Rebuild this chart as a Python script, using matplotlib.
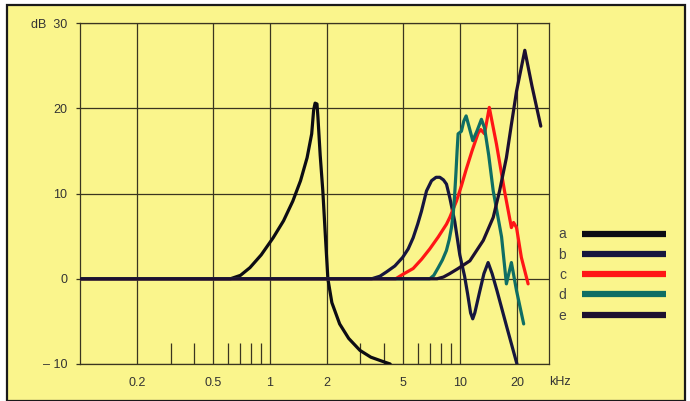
import matplotlib
matplotlib.use("Agg")
import matplotlib.pyplot as plt
from matplotlib.lines import Line2D
from matplotlib.patches import Rectangle

plt.rcParams["font.family"] = ["Liberation Sans", "DejaVu Sans"]

# ---------------------------------------------------------------------------
# Data (frequency in kHz, level in dB)
# ---------------------------------------------------------------------------
a_freq = [0.1, 0.62, 0.7, 0.785, 0.9, 1.04, 1.18, 1.32, 1.45, 1.57, 1.66, 1.70,
          1.73, 1.77, 1.79, 1.84, 1.90, 1.96, 2.02, 2.12, 2.33, 2.6, 2.98, 3.4,
          3.93, 4.3]
a_db = [0, 0, 0.4, 1.3, 2.8, 4.8, 6.8, 9.1, 11.5, 14.2, 17.0, 19.8,
        20.6, 20.5, 19.0, 14.5, 10.3, 5.0, 0, -2.8, -5.3, -7.0, -8.4, -9.2,
        -9.7, -10]

b_freq = [0.1, 3.44, 3.8, 4.11, 4.55, 5.0, 5.35, 5.68, 6.0, 6.28, 6.68, 7.1,
          7.5, 7.85, 8.2, 8.51, 8.86, 9.41, 10.0, 10.6, 11.0, 11.4, 11.7, 12.0,
          12.7, 13.4, 14.1, 14.8, 15.7, 17.7, 20.0]
b_db = [0, 0, 0.3, 0.8, 1.5, 2.5, 3.5, 4.8, 6.4, 7.9, 10.3, 11.5,
        11.9, 11.9, 11.6, 11.1, 9.5, 6.7, 2.8, 0.3, -1.8, -4.0, -4.7, -4.0,
        -1.6, 0.6, 1.9, 0.6, -1.4, -5.7, -10]

c_freq = [0.1, 4.6, 5.0, 5.68, 6.3, 6.95, 7.7, 8.51, 8.86, 9.6, 10.2, 10.8,
          11.6, 12.5, 12.9, 13.5, 14.3, 15.6, 17.2, 18.7, 19.2, 19.9, 21.1, 22.9]
c_db = [0, 0, 0.5, 1.2, 2.3, 3.5, 4.9, 6.4, 7.2, 9.1, 10.9, 12.8,
        15.0, 17.1, 17.5, 17.0, 20.1, 15.8, 10.3, 6.0, 6.6, 6.0, 2.5, -0.6]

d_freq = [0.1, 6.95, 7.3, 7.7, 8.1, 8.5, 8.8, 9.04, 9.25, 9.4, 9.55, 9.68, 9.8,
          10.2, 10.5, 10.8, 11.2, 11.7, 12.3, 13.0, 13.5, 14.2, 15.0, 16.6,
          17.6, 18.7, 19.9, 21.7]
d_db = [0, 0, 0.4, 1.3, 2.2, 3.3, 4.6, 6.0, 7.8, 9.9, 12.5, 15.0, 17.0,
        17.3, 18.5, 19.1, 17.8, 16.2, 17.3, 18.7, 17.7, 14.5, 10.3, 4.9,
        -0.6, 1.9, -1.4, -5.3]

e_freq = [0.1, 7.6, 8.2, 8.85, 9.8, 11.3, 13.3, 15.0, 16.2, 17.6, 18.7, 19.9,
          22.0, 24.0, 26.7]
e_db = [0, 0, 0.2, 0.6, 1.2, 2.1, 4.5, 7.2, 10.3, 14.2, 18.1, 22.0,
        26.8, 22.6, 17.9]

labels = ["a", "b", "c", "d", "e"]
colors = ["#0c0c14", "#16163e", "#ff1616", "#0f6e64", "#1c1030"]

x_ticks = [0.2, 0.5, 1, 2, 5, 10, 20]
x_ticklabels = ["0.2", "0.5", "1", "2", "5", "10", "20"]
y_ticks = [-10, 0, 10, 20, 30]
y_ticklabels = ["\u2013 10", "0", "10", "20", "dB  30"]
short_ticks = [0.3, 0.4, 0.6, 0.7, 0.8, 0.9, 3, 4, 6, 7, 8, 9]

# ---------------------------------------------------------------------------
# Figure
# ---------------------------------------------------------------------------
W, H = 690, 401
fig = plt.figure(figsize=(W / 100, H / 100), dpi=100)
fig.patch.set_facecolor("white")
fig.patches.append(Rectangle((7 / W, 0), (685 - 7) / W, (H - 5) / H,
                             transform=fig.transFigure, facecolor="#faf58c",
                             edgecolor="#1a1a1a", linewidth=1.6, zorder=-1))

ax = fig.add_axes([80 / W, (H - 364) / H, (549 - 80) / W, (364 - 23) / H])
ax.set_facecolor("none")
ax.set_xscale("log")
ax.set_xlim(0.1, 29.5)
ax.set_ylim(-10, 30)

grid_c = "#3a3520"
for x in x_ticks:
    ax.axvline(x, color=grid_c, lw=0.9, zorder=1)
for y in y_ticks:
    ax.axhline(y, color=grid_c, lw=0.9, zorder=1)
ax.vlines(short_ticks, -10, -7.5, color=grid_c, lw=0.9, zorder=1)

for sp in ax.spines.values():
    sp.set_color(grid_c)
    sp.set_linewidth(0.9)

series = [(a_freq, a_db), (b_freq, b_db), (c_freq, c_db),
          (d_freq, d_db), (e_freq, e_db)]
for (f, db), col in zip(series, colors):
    ax.plot(f, db, color=col, lw=2.3, solid_joinstyle="round",
            solid_capstyle="round", zorder=3)

ax.set_xticks(x_ticks)
ax.set_xticklabels(x_ticklabels)
ax.xaxis.set_minor_locator(matplotlib.ticker.NullLocator())
ax.set_yticks(y_ticks)
ax.set_yticklabels(y_ticklabels)
ax.tick_params(axis="x", length=0, pad=9, labelsize=9, labelcolor="#333333")
ax.tick_params(axis="y", length=3, width=0.9, color=grid_c, pad=6,
               labelsize=9, labelcolor="#333333")
ax.text(1.0, -0.035, "kHz", transform=ax.transAxes, ha="left", va="top",
        fontsize=9, color="#333333")

handles = [Line2D([], [], color=c, lw=4.5, solid_capstyle="butt") for c in colors]
fig.legend(handles, labels, loc="upper left",
           bbox_to_anchor=(546 / W, 1 - 215 / H), markerfirst=False,
           frameon=False, handlelength=6.1, handletextpad=1.1,
           labelspacing=0.45, fontsize=10, labelcolor="#444444")

fig.savefig("out.png", dpi=100)
